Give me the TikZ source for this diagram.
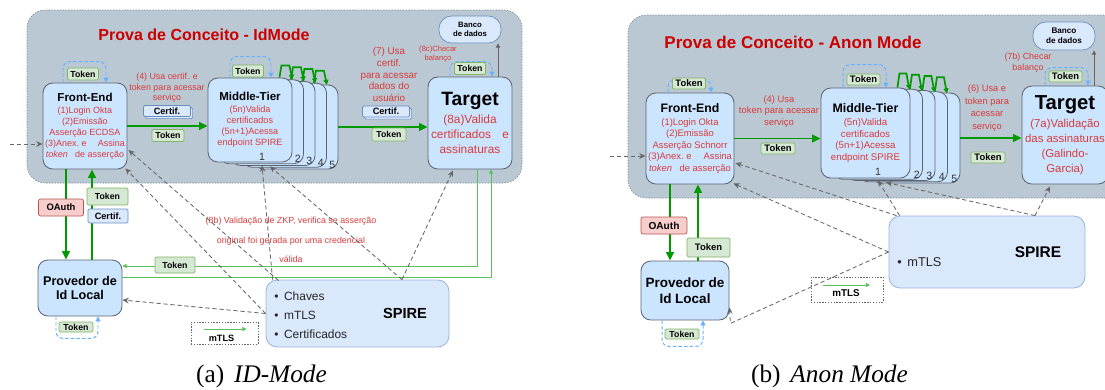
\documentclass[tikz,border=0pt]{standalone}
\usepackage{fontspec}
\setmainfont{Liberation Sans}
\newfontfamily\capfont{Liberation Serif}
\usetikzlibrary{arrows.meta,calc,shadows}

\definecolor{bggray}{HTML}{BAC8D3}
\definecolor{bgline}{HTML}{7F8C99}
\definecolor{boxfill}{HTML}{CCE5FF}
\definecolor{boxline}{HTML}{5B6470}
\definecolor{spfill}{HTML}{DAE8FC}
\definecolor{spline}{HTML}{9CB4DB}
\definecolor{tokfill}{HTML}{D5E8D4}
\definecolor{tokline}{HTML}{82B366}
\definecolor{oafill}{HTML}{F8CECC}
\definecolor{oaline}{HTML}{B85450}
\definecolor{certfill}{HTML}{DAE8FC}
\definecolor{certline}{HTML}{6C8EBF}
\definecolor{flowgreen}{HTML}{009900}
\definecolor{thingreen}{HTML}{5CBF5C}
\definecolor{dashgray}{HTML}{666666}
\definecolor{loopblue}{HTML}{66B2FF}
\definecolor{redtext}{HTML}{D93A3A}
\definecolor{titlered}{HTML}{CC0000}

\newcommand{\pxl}{0.025cm}
\newcommand{\fsz}[2]{\fontsize{#1}{#2}\selectfont}

\begin{document}
\begin{tikzpicture}[x=\pxl, y=-\pxl,
  bg/.style = {draw=bgline, fill=bggray, line width=0.5pt, dash pattern=on 1pt off 1pt, rounded corners=13pt},
  box/.style = {draw=boxline, fill=boxfill, line width=0.6pt, rounded corners=7pt, align=center, inner sep=1pt},
  spbox/.style = {draw=spline, fill=spfill, line width=0.6pt, rounded corners=8pt},
  dbbox/.style = {draw=certline, fill=spfill, line width=0.5pt, rounded corners=9pt, align=center, inner sep=0pt},
  tok/.style = {draw=tokline, fill=tokfill, line width=0.5pt, rounded corners=1pt, inner sep=0pt, font=\bfseries\fsz{6.2}{7}, minimum width=31*\pxl, minimum height=12*\pxl},
  certflat/.style = {draw=certline, fill=certfill, line width=0.5pt, rounded corners=1pt, inner sep=0pt, font=\bfseries\fsz{6.5}{7}, minimum width=47*\pxl, minimum height=11*\pxl},
  cert/.style = {certflat, copy shadow={shadow xshift=1.5pt, shadow yshift=-1.5pt, fill=certfill, draw=certline}},
  oauth/.style = {draw=oaline, fill=oafill, line width=0.5pt, rounded corners=1.5pt, inner sep=0pt, minimum height=17*\pxl},
  lgbox/.style = {draw=dashgray, fill=white, line width=0.5pt, dash pattern=on 1pt off 1pt},
  ttl/.style = {text=titlered},
  rnote/.style = {text=redtext, align=center, inner sep=0pt},
  numtxt/.style = {font=\fsz{7.5}{8}, text=black!80, inner sep=0pt},
  flow/.style = {draw=flowgreen, line width=1.2pt, -{Triangle[length=6pt,width=5.5pt]}},
  hop/.style = {draw=flowgreen, line width=1.2pt, -{Triangle[length=3.5pt,width=3.5pt]}},
  tflow/.style = {draw=thingreen, line width=0.6pt, -{Triangle[length=3pt,width=3pt]}},
  dsh/.style = {draw=dashgray, line width=0.6pt, dash pattern=on 3pt off 2pt, -{Stealth[length=4.5pt,width=4pt]}},
  lp/.style = {draw=loopblue, line width=0.7pt, dash pattern=on 2.5pt off 1.5pt, rounded corners=5pt, -{Triangle[length=3.5pt,width=3.5pt]}},
  dbarrow/.style = {draw=dashgray, line width=0.6pt, -{Triangle[length=3pt,width=3pt]}}]
\clip (0,0) rectangle (1105,389);

% (a) IdMode
\draw[bg] (27,10) rectangle (522,183);
\node[ttl, font=\bfseries\fsz{11.4}{13}] (ta) at (204,35) {Prova de Conceito - IdMode};

\node[box, minimum width=84*\pxl, minimum height=86*\pxl, font=\fsz{6.4}{7.8}, text=redtext] (fea) at (85,126)
  {\textcolor{black}{\bfseries\fsz{8.2}{10}Front-End}\\[1pt](1)Login Okta\\(2)Emissão\\Asserção ECDSA\\(3)Anex.\ e\hspace{8pt}Assina\\\textit{token}\hspace{5pt}de asserção};
\foreach \k/\n in {4/5,3/4,2/3,1/2} {
  \node[box, minimum width=84*\pxl, minimum height=84*\pxl] (mta\n) at ($(250,120)+(11.5*\k,1.75*\k)$) {};
  \node[numtxt, anchor=south east] (mtna\n) at ($(mta\n.south east)+(-3,-1)$) {\n};
}
\node[box, minimum width=84*\pxl, minimum height=84*\pxl, font=\fsz{6.5}{7.8}, text=redtext] (mta1) at (250,120)
  {\textcolor{black}{\bfseries\fsz{8.2}{10}Middle-Tier}\\[1pt](5n)Valida\\certificados\\(5n+1)Acessa\\endpoint SPIRE};
\node[numtxt] (mtna1) at (262,157) {1};
\foreach \k in {0,...,3}
  \draw[hop] ($(mta1.north east)+(-13+11.5*\k,1.75*\k)$) -- ++(2,-12) -- ++(8,0) -- ++(3,14);
\node[box, minimum width=84*\pxl, minimum height=92*\pxl, font=\fsz{8.45}{10.6}, text=redtext] (tga) at (470,123)
  {\textcolor{black}{\bfseries\fsz{13.7}{15}Target}\\[2pt](8a)Valida\\certificados\hspace{8pt}e\\assinaturas};
\node[dbbox, minimum width=62*\pxl, minimum height=27*\pxl, font=\bfseries\fsz{5.5}{6.8}] (dba) at (470,29.5) {Banco\\de dados};
\node[box, minimum width=84*\pxl, minimum height=56*\pxl, font=\bfseries\fsz{9}{10.6}] (pva) at (80,288) {Provedor de\\Id Local};
\node[spbox, minimum width=183*\pxl, minimum height=67*\pxl] (spa) at (357.5,313.5) {};
\node[anchor=west, align=left, font=\fsz{8.5}{13.5}, text=black!85, inner sep=0pt] (spla) at (274,315)
  {\textbullet\hspace{4pt}Chaves\\\textbullet\hspace{4pt}mTLS\\\textbullet\hspace{4pt}Certificados};
\node[font=\bfseries\fsz{10.4}{12}] (spna) at (405,313) {SPIRE};
\node[lgbox, minimum width=67*\pxl, minimum height=22*\pxl] (lga) at (224.5,333) {};
\draw[tflow] ($(lga.center)+(-21,-4)$) -- ($(lga.center)+(22,-4)$);
\node[font=\bfseries\fsz{6.5}{7}, inner sep=0pt] (lgta) at ($(lga.center)+(-3,5)$) {mTLS};

\draw[lp] ($(fea.north)+(-22,0)$) -- ++(0,-21) -| ($(fea.north)+(21,0)$);
\node[tok] (tka1) at (83,74) {Token};
\draw[lp] ($(mta1.north)+(-20,0)$) -- ++(0,-21) -| ($(mta1.north)+(21,0)$);
\node[tok] (tka2) at (248,71) {Token};
\draw[lp] ($(tga.north)+(-20,0)$) -- ++(0,-15) -| ($(tga.north)+(22,0)$);
\node[tok] (tka3) at (470,68.5) {Token};
\draw[lp] ($(pva.south)+(-24,0)$) -- ++(0,22) -| ($(pva.south)+(18,0)$);
\node[tok, minimum width=34*\pxl, minimum height=10*\pxl] (tka4) at (76,327) {Token};

\draw[flow] (fea.east) -- (fea.east -| mta1.west);
\node[rnote, font=\fsz{6.3}{7.4}] (na1) at (167,88) {(4) Usa certif. e\\token para acessar\\serviço};
\node[cert] (cta1) at (167,111) {Certif.};
\node[tok, minimum width=32*\pxl] (tka5) at (168,135.5) {Token};
\draw[flow] (mta5.east) -- (mta5.east -| tga.west);
\node[rnote, font=\fsz{7}{8.3}] (na2) at (389,74.5) {(7) Usa\\certif.\\para acessar\\dados do\\usuário};
\node[cert] (cta2) at (386,111.5) {Certif.};
\node[tok, minimum width=34*\pxl, minimum height=13*\pxl] (tka6) at (389,134.5) {Token};
\node[rnote, font=\fsz{5.4}{7}] (na3) at (438,54) {(8c)Checar\\balanço};
\draw[dbarrow] ($(tga.north)+(28,0)$) -- ($(dba.south)+(28,0)$);

\coordinate (ina) at (10,144);
\draw[dsh] (ina) -- (ina -| fea.west);
\draw[flow] ($(fea.south)+(-19,0)$) -- ($(pva.north)+(-14,0)$);
\draw[flow] ($(pva.north)+(12,0)$) -- ($(fea.south)+(7,0)$);
\node[oauth, minimum width=45*\pxl, font=\bfseries\fsz{6.7}{7}] (oaa) at (61,207.5) {OAuth};
\node[tok, minimum width=41*\pxl, minimum height=17*\pxl] (tka7) at (107.5,196.5) {Token};
\node[certflat, minimum width=40*\pxl, minimum height=14*\pxl] (cta3) at (108,216) {Certif.};

\draw[tflow] ($(tga.south)+(7,0)$) |- ($(pva.east)+(0,-22)$);
\draw[tflow] ($(pva.east)+(0,-11)$) -| ($(tga.south)+(21,0)$);
\node[tok, minimum width=40*\pxl, minimum height=16*\pxl] (tka8) at (175,265) {Token};
\node[rnote, font=\fsz{6.3}{13.8}] (na4) at (291,240) {(8b) Validação de ZKP, verifica se asserção\\original foi gerada por uma credencial\\válida};

\coordinate (spa1) at ($(spa.north)+(44.5,0)$);
\draw[dsh] (spa.west) -- ($(fea.south east)+(-2,-1)$);
\draw[dsh] ($(spa.north west)+(13,1)$) -- ($(fea.east)+(1,24)$);
\draw[dsh] (spa.west) -- ($(pva.east)+(0,12)$);
\draw[dsh] ($(spa.north west)+(7,0)$) -- ($(mta1.south)+(12,3)$);
\draw[dsh] (spa1) -- ($(mta1.south)+(20,4)$);
\draw[dsh] (spa1) -- ($(tga.south)+(-17,1)$);

\node[font=\capfont\fsz{18}{20}] (capa) at (261.5,376) {(a)\hspace{7pt}\textit{ID-Mode}};

% (b) Anon Mode
\draw[bg] (628,15) rectangle (1130,198);
\node[ttl, font=\bfseries\fsz{12.1}{14}] (tb) at (793,42) {Prova de Conceito - Anon Mode};

\node[box, minimum width=88*\pxl, minimum height=91*\pxl, font=\fsz{6.7}{8.2}, text=redtext] (feb) at (690,138.5)
  {\textcolor{black}{\bfseries\fsz{8.75}{10}Front-End}\\[1pt](1)Login Okta\\(2)Emissão\\Asserção Schnorr\\(3)Anex.\ e\hspace{8.5pt}Assina\\\textit{token}\hspace{5.3pt}de asserção};
\foreach \k/\n in {4/5,3/4,2/3,1/2} {
  \node[box, minimum width=89*\pxl, minimum height=90*\pxl] (mtb\n) at ($(865.5,133)+(12.5*\k,1.25*\k)$) {};
  \node[numtxt, anchor=south east] (mtnb\n) at ($(mtb\n.south east)+(-3,-1)$) {\n};
}
\node[box, minimum width=89*\pxl, minimum height=90*\pxl, font=\fsz{6.9}{8.3}, text=redtext] (mtb1) at (865.5,133)
  {\textcolor{black}{\bfseries\fsz{8.8}{10.5}Middle-Tier}\\[1pt](5n)Valida\\certificados\\(5n+1)Acessa\\endpoint SPIRE};
\node[numtxt] (mtnb1) at (878,172) {1};
\foreach \k in {0,...,3}
  \draw[hop] ($(mtb1.north east)+(-13+12.5*\k,1.25*\k)$) -- ++(2,-14) -- ++(7,0) -- ++(3,16);
\node[box, minimum width=86*\pxl, minimum height=98*\pxl, font=\fsz{8.1}{10.8}, text=redtext] (tgb) at (1065,135)
  {\textcolor{black}{\bfseries\fsz{14.4}{16}Target}\\[2pt](7a)Validação\\das assinaturas\\(Galindo-\\Garcia)};
\node[dbbox, minimum width=62*\pxl, minimum height=28*\pxl, font=\bfseries\fsz{5.8}{7.2}] (dbb) at (1064,36) {Banco\\de dados};
\node[box, minimum width=88*\pxl, minimum height=59*\pxl, font=\bfseries\fsz{9.6}{11.3}] (pvb) at (685,290.5) {Provedor de\\Id Local};
\node[spbox, minimum width=196*\pxl, minimum height=72*\pxl] (spb) at (987,252) {};
\node[anchor=west, font=\fsz{9.1}{11}, text=black!85, inner sep=0pt] (splb) at (897,262) {\textbullet\hspace{4pt}mTLS};
\node[font=\bfseries\fsz{11}{13}] (spnb) at (1038,252) {SPIRE};
\node[lgbox, minimum width=72*\pxl, minimum height=25*\pxl] (lgb) at (847,289.5) {};
\draw[tflow] ($(lgb.center)+(-24,-4.5)$) -- ($(lgb.center)+(23,-4.5)$);
\node[font=\bfseries\fsz{7}{8}, inner sep=0pt] (lgtb) at ($(lgb.center)+(-1,4)$) {mTLS};

\draw[lp] ($(feb.north)+(-22,0)$) -- ++(0,-13) -| ($(feb.north)+(21,0)$);
\node[tok, minimum width=33*\pxl, minimum height=11*\pxl, font=\bfseries\fsz{6.7}{7}] (tkb1) at (689,83.5) {Token};
\draw[lp] ($(mtb1.north)+(-22.5,0)$) -- ++(0,-23) -| ($(mtb1.north)+(20.5,0)$);
\node[tok, minimum width=33*\pxl, minimum height=11*\pxl, font=\bfseries\fsz{6.7}{7}] (tkb2) at (863.5,79.5) {Token};
\draw[lp] ($(tgb.north)+(-20,0)$) -- ++(0,-18) -| ($(tgb.north)+(23,0)$);
\node[tok, minimum width=33*\pxl, minimum height=11*\pxl, font=\bfseries\fsz{6.7}{7}] (tkb3) at (1065.5,76.5) {Token};
\draw[lp] ($(pvb.south)+(-23,0)$) -- ++(0,26) -| ($(pvb.south)+(18,0)$);
\node[tok, minimum width=34*\pxl, minimum height=10*\pxl] (tkb4) at (682,334) {Token};

\draw[flow] (feb.east) -- (feb.east -| mtb1.west);
\node[rnote, font=\fsz{6.7}{8.1}] (nb1) at (779,111.5) {(4) Usa\\token para acessar\\serviço};
\node[tok, minimum width=34*\pxl, minimum height=11*\pxl, font=\bfseries\fsz{6.7}{7}] (tkb5) at (778,148.5) {Token};
\draw[flow] (mtb5.east) -- (mtb5.east -| tgb.west);
\node[rnote, font=\fsz{6.6}{9}] (nb2) at (987,108) {(6) Usa e\\token para\\acessar\\serviço};
\node[tok, minimum width=34*\pxl, minimum height=11*\pxl, font=\bfseries\fsz{6.7}{7}] (tkb6) at (988,157.5) {Token};
\node[rnote, font=\fsz{6.3}{7.8}] (nb3) at (1028,62.5) {(7b) Checar\\balanço};
\draw[dbarrow] ($(tgb.north)+(29,0)$) -- ($(dbb.south)+(30,0)$);

\coordinate (inb) at (610,156);
\draw[dsh] (inb) -- (inb -| feb.west);
\draw[flow] ($(feb.south)+(-20,0)$) -- ($(pvb.north)+(-15,0)$);
\draw[flow] ($(pvb.north)+(13,0)$) -- ($(feb.south)+(8,0)$);
\node[oauth, minimum width=46*\pxl, font=\bfseries\fsz{7.2}{8}] (oab) at (664,225.5) {OAuth};
\node[tok, minimum width=43*\pxl, minimum height=19*\pxl, font=\bfseries\fsz{6.7}{7}] (tkb7) at (708.5,247.5) {Token};

\coordinate (spb1) at ($(spb.north)+(48,0)$);
\draw[dsh] ($(spb.north west)+(8,0)$) -- ($(feb.east)+(1,24.5)$);
\draw[dsh] (spb.west) -- ($(feb.south east)+(-1,-1)$);
\draw[dsh] (spb.west) -- ($(pvb.south east)+(1,3)$) -- ($(pvb.south east)+(0,-13)$);
\draw[dsh] ($(spb.north west)+(11,0)$) -- ($(mtb1.south)+(12.5,2)$);
\draw[dsh] (spb1) -- ($(mtb1.south)+(20.5,4)$);
\draw[dsh] (spb1) -- ($(tgb.south)+(-15,2)$);

\node[font=\capfont\fsz{18}{20}] (capb) at (829.5,376) {(b)\hspace{7pt}\textit{Anon Mode}};
\end{tikzpicture}
\end{document}
